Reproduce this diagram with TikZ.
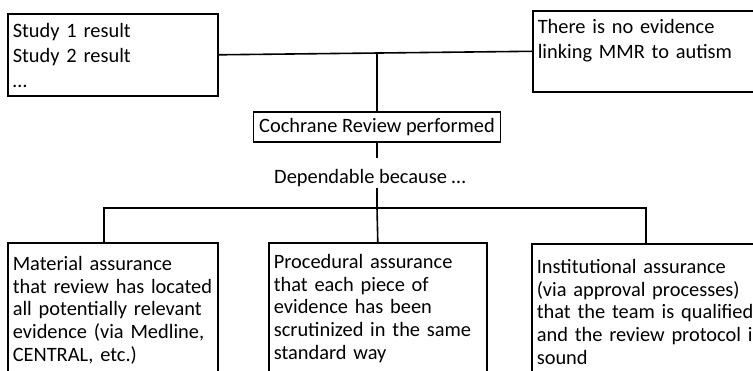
\documentclass[tikz,border=0pt]{standalone}
\usepackage{fontspec}
\setmainfont{Carlito}
\usetikzlibrary{positioning}

\begin{document}
\begin{tikzpicture}[
  x=1pt, y=-1pt,
  line width=1.6pt,
  every node/.style={font=\fontsize{20.4pt}{22.6pt}\selectfont},
  box/.style = {draw, anchor=north west, align=left, inner xsep=5pt, inner ysep=0pt, text depth=150pt},
  topbox/.style = {box, font=\fontsize{20.4pt}{25pt}\selectfont}
  ]
  \useasboundingbox (0,0) rectangle (753,371);

  \coordinate (join) at (377,52);
  \coordinate (fork) at (377,208);
  \coordinate (forkL) at (104,208);
  \coordinate (forkR) at (646,208);

  % top row
  \node[topbox, text width=200pt, text height=24pt, text depth=58pt] (res) at (7,13)
    {Study 1 result\\Study 2 result\\…};
  \node[topbox, text width=232pt, text height=23pt, text depth=58pt] (claim) at (532,10)
    {There is no evidence\\linking MMR to autism};

  \node[draw, minimum width=247pt, minimum height=30pt, inner sep=0pt] (cochrane) at (377,127)
    {Cochrane Review performed};
  \node[text height=25pt, text depth=3pt, inner sep=0pt, anchor=base] (dep) at (370,184)
    {Dependable because …};

  % assurances
  \node[box, text width=200pt, text height=28pt] (mat) at (7,242)
    {Material assurance\\that review has located\\all potentially relevant\\evidence (via Medline,\\CENTRAL, etc.)};
  \node[box, text width=208pt, text height=26pt] (mid) at (268,242)
    {Procedural assurance\\that each piece of\\evidence has been\\scrutinized in the same\\standard way};
  \node[box, text width=232pt, text height=30pt] (inst) at (531,243)
    {Institutional assurance\\(via approval processes)\\that the team is qualified\\and the review protocol is\\sound};

  \draw (res.east) -- (claim.west);
  \draw (join) -- (cochrane.north);
  \draw (cochrane.south) -- (cochrane.south |- dep.north);
  \draw (fork |- dep.south) -- (fork);
  \draw (forkL |- mat.north) -- (forkL) -- (forkR) -- (forkR |- inst.north);
  \draw (fork) -- (mid.north);

\end{tikzpicture}
\end{document}
